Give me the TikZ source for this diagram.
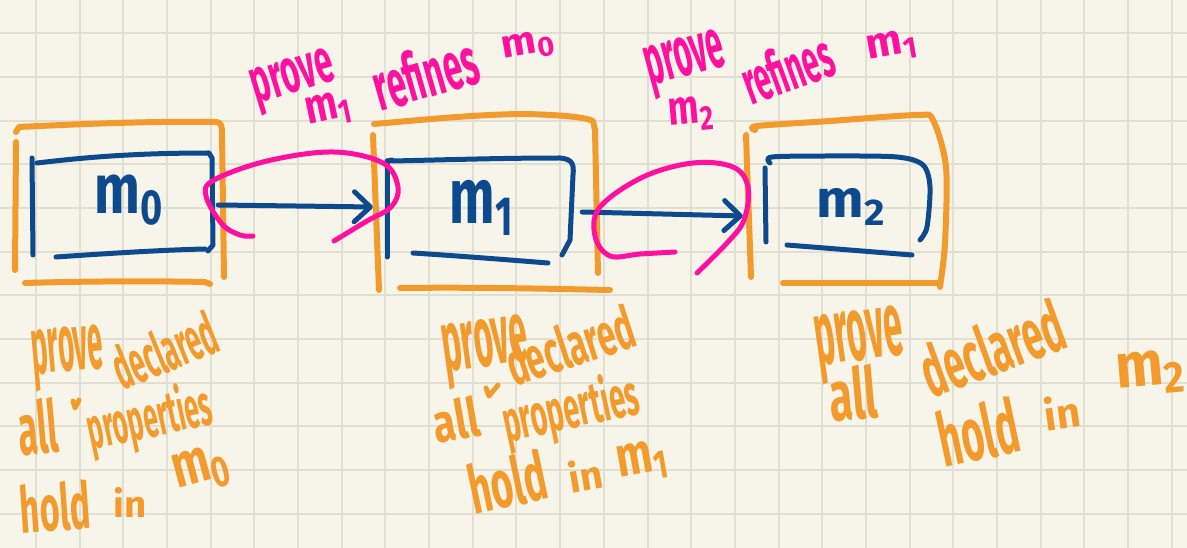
\documentclass[tikz,border=0pt]{standalone}
\usepackage{fontspec}
\setmainfont{Fira Sans}
\usepackage{graphicx}
\usetikzlibrary{arrows.meta,calc}

\definecolor{paper}{HTML}{F7F5EA}
\definecolor{gridline}{HTML}{E1DED2}
\definecolor{orangeink}{HTML}{F39A2C}
\definecolor{blueink}{HTML}{0C4A8D}
\definecolor{pinkink}{HTML}{FF109F}

% a handwritten-looking word squeezed into a given width and total height
\newcommand\handword[3]{\resizebox*{#1pt}{#2pt}{\bfseries #3}}
% a model name with its index
\newcommand\mdx[1]{m\raisebox{-0.15em}{\scriptsize #1}}

\begin{document}
\begin{tikzpicture}[x=1pt,y=-1pt,
  ink/.style={line cap=round, line join=round},
  ostroke/.style={ink, draw=orangeink, line width=6pt},
  bstroke/.style={ink, draw=blueink, line width=5pt},
  pstroke/.style={ink, draw=pinkink, line width=5pt},
  modelbox/.style={draw=none, inner sep=0pt},
  otext/.style={text=orangeink, inner sep=0pt},
  btext/.style={text=blueink, inner sep=0pt},
  ptext/.style={text=pinkink, inner sep=0pt},
  flow/.style={bstroke, -{Straight Barb[length=16pt,width=30pt,round]}}]

% paper and grid
\fill[paper] (0,0) rectangle (1187,548);
\useasboundingbox (0,0) rectangle (1187,548);
\foreach \i in {0,...,26}
  \draw[gridline, line width=2pt] ({36+\i*43.68},0) -- ({36+\i*43.68},548);
\foreach \j in {0,...,11}
  \draw[gridline, line width=2pt] (0,{33.3+\j*43.68}) -- (1187,{33.3+\j*43.68});

% ---------- model boxes (anchors for the arrows) ----------
\node[modelbox, minimum width=181pt, minimum height=103pt] (b0) at (122.5,204.5) {};
\node[modelbox, minimum width=186pt, minimum height=105pt] (b1) at (480,210.5) {};
\node[modelbox, minimum width=165pt, minimum height=99pt]  (b2) at (847.5,205.5) {};

% ---------- box m0 ----------
\draw[ostroke] (16,132) -- (19,127) .. controls (80,124) and (150,121) .. (216,122)
  .. controls (221,122) and (222,126) .. (222,133) -- (224,277);
\draw[ostroke] (16,142) -- (15,270);
\draw[ostroke] (25,283) .. controls (90,281) and (160,281) .. (205,282) -- (210,284);
\draw[bstroke] (32,158) -- (33,255);
\draw[bstroke] (37,163) .. controls (80,158) and (130,153) .. (209,153)
  -- (212,158) -- (213,245) -- (208,251);
\draw[bstroke] (56,257) .. controls (100,254) and (160,250) .. (205,249);
\node[btext] (l0) at (129,200) {\handword{68}{50}{\mdx{0}}};

% ---------- box m1 ----------
\draw[ostroke] (374,124) .. controls (420,120) and (480,114) .. (527,114)
  .. controls (560,115) and (585,117) .. (593,121) -- (595,130) -- (598,273);
\draw[ostroke] (373,135) -- (379,290);
\draw[ostroke] (400,288) .. controls (480,287) and (560,289) .. (610,290);
\draw[bstroke] (387,161) -- (392,160);
\draw[bstroke] (387,161) -- (387,257);
\draw[bstroke] (392,161) .. controls (440,160) and (500,158) .. (560,158)
  .. controls (573,159) and (574,165) .. (573,175) -- (570,240) -- (562,255);
\draw[bstroke] (413,253) .. controls (460,256) and (510,260) .. (548,263);
\node[btext] (l1) at (481,208) {\handword{63}{55}{\mdx{1}}};

% ---------- box m2 ----------
\draw[ostroke] (746,135) -- (751,277);
\draw[ostroke] plot[smooth, tension=0.5] coordinates
  {(755,130) (757,126) (830,121) (917,115) (933,120) (946,167) (945,243) (940,287)};
\draw[ostroke] (783,283) -- (940,283);
\draw[bstroke] (765,168) -- (766,242);
\draw[bstroke] plot[smooth, tension=0.5] coordinates
  {(770,163) (772,157) (830,156) (897,157) (923,165) (930,187) (927,227) (920,240)};
\draw[bstroke] (787,245) -- (912,255);
\node[btext] (l2) at (851,207) {\handword{68}{37}{\mdx{2}}};

% ---------- refinement arrows ----------
\draw[flow] ($(b0.east)+(5,0.5)$) -- ($(b1.west)+(-14,-3.5)$);
\draw[flow] ($(b1.east)+(9,1.5)$) -- ($(b2.west)+(-22,10.5)$);

% loops marking each refinement step
\draw[pstroke] plot[smooth, tension=0.6] coordinates
  {(253,236) (240,235) (222,224) (206,196) (214,180) (267,161) (333,152)
   (383,163) (398,187) (391,207) (367,221) (334,241)};
\draw[pstroke] plot[smooth, tension=0.6] coordinates
  {(675,252) (640,254) (610,256) (595,236) (600,207) (643,177) (693,163)
   (733,167) (748,187) (744,220) (727,243) (697,273)};

% ---------- refinement notes ----------
\node[ptext, rotate=17] (r1a) at (294,82)  {\handword{84}{48}{prove}};
\node[ptext, rotate=12] (r1b) at (328,110) {\handword{45}{34}{\mdx{1}}};
\node[ptext, rotate=16] (r1c) at (425,73)  {\handword{106}{52}{refines}};
\node[ptext, rotate=10] (r1d) at (528,46)  {\handword{52}{28}{\mdx{0}}};

\node[ptext, rotate=15] (r2a) at (686,64)  {\handword{80}{54}{prove}};
\node[ptext, rotate=5]  (r2b) at (691,114) {\handword{44}{34}{\mdx{2}}};
\node[ptext, rotate=20] (r2c) at (787,68)  {\handword{93}{48}{refines}};
\node[ptext, rotate=10] (r2d) at (892,47)  {\handword{50}{30}{\mdx{1}}};

% ---------- property notes under m0 ----------
\node[otext, rotate=5]  (n0a) at (68,358)  {\handword{72}{62}{prove}};
\node[otext, rotate=22] (n0b) at (164,350) {\handword{108}{46}{declared}};
\node[otext, rotate=5]  (n0c) at (38,427)  {\handword{40}{56}{all}};
\node[otext, rotate=12] (n0d) at (150,420) {\handword{126}{60}{properties}};
\node[otext, rotate=4]  (n0e) at (55,507)  {\handword{70}{50}{hold}};
\node[otext]            (n0f) at (130,502) {\handword{33}{30}{in}};
\node[otext, rotate=15] (n0g) at (201,470) {\handword{56}{44}{\mdx{0}}};
\draw[ostroke, line width=5pt] (73,401) -- (75,408) -- (79,400);

% ---------- property notes under m1 ----------
\node[otext, rotate=8]  (n1a) at (486,352) {\handword{86}{66}{prove}};
\node[otext, rotate=18] (n1b) at (570,345) {\handword{132}{46}{declared}};
\node[otext, rotate=10] (n1c) at (456,420) {\handword{46}{42}{all}};
\node[otext, rotate=12] (n1d) at (571,411) {\handword{138}{60}{properties}};
\node[otext, rotate=12] (n1e) at (507,482) {\handword{78}{52}{hold}};
\node[otext, rotate=10] (n1f) at (585,475) {\handword{34}{32}{in}};
\node[otext, rotate=10] (n1g) at (642,462) {\handword{50}{40}{\mdx{1}}};
\draw[ostroke, line width=5pt] (486,388) -- (489,396) -- (498,385);

% ---------- property notes under m2 ----------
\node[otext, rotate=8]  (n2a) at (860,345)  {\handword{88}{70}{prove}};
\node[otext, rotate=5]  (n2b) at (853,393)  {\handword{48}{55}{all}};
\node[otext, rotate=20] (n2c) at (992,348)  {\handword{148}{55}{declared}};
\node[otext, rotate=12] (n2d) at (978,432)  {\handword{80}{58}{hold}};
\node[otext, rotate=8]  (n2e) at (1062,412) {\handword{36}{34}{in}};
\node[otext, rotate=5]  (n2f) at (1150,373) {\handword{68}{44}{\mdx{2}}};
\end{tikzpicture}
\end{document}
